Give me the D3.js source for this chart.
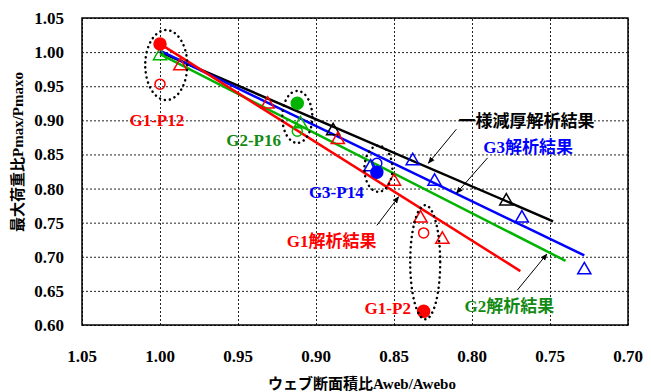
<!DOCTYPE html>
<html>
<head>
<meta charset="utf-8">
<script src="https://cdn.jsdelivr.net/npm/d3@7"></script>
<style>
  body { margin: 0; background: #fff; }
  text { font-family: "Liberation Serif", "Noto Sans CJK JP", serif; font-weight: bold; }
</style>
</head>
<body>
<div class="chart"></div>
<script>
// tick values
var xTicks = [1.05, 1.00, 0.95, 0.90, 0.85, 0.80, 0.75, 0.70];
var yTicks = [0.60, 0.65, 0.70, 0.75, 0.80, 0.85, 0.90, 0.95, 1.00, 1.05];

// analysis lines [x, y] end points
var lineUniform = [[1.000, 1.000], [0.748, 0.752]];
var lineG3 = [[1.000, 1.002], [0.728, 0.702]];
var lineG2 = [[1.000, 0.997], [0.740, 0.694]];
var lineG1 = [[1.000, 1.012], [0.769, 0.679]];

// test points [x, y]
var redFilled = [[1.000, 1.012], [0.831, 0.620]];
var redOpen = [[1.000, 0.953], [0.831, 0.735]];
var redTri = [[0.987, 0.981], [0.931, 0.925], [0.886, 0.873], [0.850, 0.812], [0.833, 0.758], [0.819, 0.727]];
var greenFilled = [[0.912, 0.925]];
var greenOpen = [[0.912, 0.884]];
var greenTri = [[1.000, 0.996], [0.910, 0.896]];
var blueFilled = [[0.861, 0.824]];
var blueOpen = [[0.861, 0.837]];
var blueTri = [[0.865, 0.833], [0.838, 0.842], [0.824, 0.812], [0.768, 0.758], [0.728, 0.682]];
var blackTri = [[0.889, 0.886], [0.778, 0.783]];

function init() {
  var w = 651;
  var h = 392;
  var left = 82, right = 628, top = 18, bottom = 325;

  var red = "#ff0000", green = "#00b400", greenText = "#138a13", blue = "#0000ff", black = "#000";

  var x = d3.scaleLinear().domain([1.05, 0.70]).range([left, right]);
  var y = d3.scaleLinear().domain([0.60, 1.05]).range([bottom, top]);

  var svg = d3.select(".chart").append("svg")
    .attr("width", w)
    .attr("height", h);

  // grid
  svg.append("g")
    .attr("transform", "translate(0," + bottom + ")")
    .call(d3.axisBottom(x).tickValues(xTicks).tickSize(-(bottom - top)).tickFormat(""))
    .call(function(g) {
      g.select(".domain").remove();
      g.selectAll("line").attr("stroke", "#222").attr("stroke-dasharray", "2,2");
    });
  svg.append("g")
    .attr("transform", "translate(" + left + ",0)")
    .call(d3.axisLeft(y).tickValues(yTicks).tickSize(-(right - left)).tickFormat(""))
    .call(function(g) {
      g.select(".domain").remove();
      g.selectAll("line").attr("stroke", "#222").attr("stroke-dasharray", "2,2");
    });

  svg.append("rect")
    .attr("x", left).attr("y", top)
    .attr("width", right - left).attr("height", bottom - top)
    .attr("fill", "none").attr("stroke", "#000").attr("stroke-width", 1.5);

  // tick labels
  svg.selectAll(".xt").data(xTicks).enter().append("text")
    .attr("x", function(d) { return x(d); })
    .attr("y", 362)
    .attr("text-anchor", "middle")
    .attr("font-size", "17px")
    .text(function(d) { return d.toFixed(2); });
  svg.selectAll(".yt").data(yTicks).enter().append("text")
    .attr("x", 64)
    .attr("y", function(d) { return y(d) + 6; })
    .attr("text-anchor", "end")
    .attr("font-size", "17px")
    .text(function(d) { return d.toFixed(2); });

  // axis titles
  svg.append("text")
    .attr("x", 362).attr("y", 389)
    .attr("text-anchor", "middle")
    .attr("font-size", "15px")
    .text("ウェブ断面積比Aweb/Awebo");
  svg.append("text")
    .attr("transform", "translate(23,152) rotate(-90)")
    .attr("text-anchor", "middle")
    .attr("font-size", "15px")
    .text("最大荷重比Pmax/Pmaxo");

  // analysis lines
  var line = d3.line().x(function(d) { return x(d[0]); }).y(function(d) { return y(d[1]); });
  [[lineUniform, black], [lineG3, blue], [lineG2, green], [lineG1, red]].forEach(function(l) {
    svg.append("path").datum(l[0])
      .attr("d", line)
      .attr("fill", "none")
      .attr("stroke", l[1])
      .attr("stroke-width", 2.5);
  });

  // markers
  var tri = d3.symbol().type(d3.symbolTriangle).size(75);
  function triangles(data, color) {
    svg.selectAll(null).data(data).enter().append("path")
      .attr("d", tri)
      .attr("transform", function(d) { return "translate(" + x(d[0]) + "," + (y(d[1]) + 1) + ")"; })
      .attr("fill", "none")
      .attr("stroke", color)
      .attr("stroke-width", 1.5);
  }
  function circles(data, color, filled) {
    svg.selectAll(null).data(data).enter().append("circle")
      .attr("cx", function(d) { return x(d[0]); })
      .attr("cy", function(d) { return y(d[1]); })
      .attr("r", filled ? 6 : 5)
      .attr("fill", filled ? color : "none")
      .attr("stroke", color)
      .attr("stroke-width", 1.5);
  }
  triangles(blackTri, black);
  triangles(blueTri, blue);
  triangles(greenTri, green);
  triangles(redTri, red);
  circles(redOpen, red, false);
  circles(greenOpen, green, false);
  circles(blueOpen, blue, false);
  circles(redFilled, red, true);
  circles(greenFilled, green, true);
  circles(blueFilled, blue, true);

  // dotted ellipses around named specimens
  var groups = [
    { cx: 0.996, cy: 0.981, rx: 21, ry: 35 },
    { cx: 0.912, cy: 0.905, rx: 15, ry: 26 },
    { cx: 0.860, cy: 0.829, rx: 14, ry: 23 },
    { cx: 0.830, cy: 0.692, rx: 15, ry: 57 }
  ];
  svg.selectAll(null).data(groups).enter().append("ellipse")
    .attr("cx", function(d) { return x(d.cx); })
    .attr("cy", function(d) { return y(d.cy); })
    .attr("rx", function(d) { return d.rx; })
    .attr("ry", function(d) { return d.ry; })
    .attr("fill", "none")
    .attr("stroke", "#000")
    .attr("stroke-width", 2.5)
    .attr("stroke-linecap", "round")
    .attr("stroke-dasharray", "0.1,5");

  // arrows to the lines
  svg.append("defs").append("marker")
    .attr("id", "arr")
    .attr("viewBox", "0 0 10 10")
    .attr("refX", 9).attr("refY", 5)
    .attr("markerWidth", 7).attr("markerHeight", 7)
    .attr("orient", "auto")
    .append("path").attr("d", "M0,1L10,5L0,9Z").attr("fill", "#000");
  var arrows = [
    [[0.810, 0.887], [0.828, 0.837]],
    [[0.790, 0.845], [0.810, 0.793]],
    [[0.861, 0.746], [0.847, 0.788]],
    [[0.771, 0.651], [0.752, 0.704]]
  ];
  arrows.forEach(function(a) {
    svg.append("line")
      .attr("x1", x(a[0][0])).attr("y1", y(a[0][1]))
      .attr("x2", x(a[1][0])).attr("y2", y(a[1][1]))
      .attr("stroke", "#000").attr("stroke-width", 1)
      .attr("marker-end", "url(#arr)");
  });

  // labels
  var labels = [
    { t: "G1-P12", x: 1.002, y: 0.892, c: red },
    { t: "G2-P16", x: 0.940, y: 0.862, c: greenText },
    { t: "G3-P14", x: 0.887, y: 0.786, c: blue },
    { t: "G1解析結果", x: 0.890, y: 0.714, c: red },
    { t: "G1-P2", x: 0.854, y: 0.616, c: red },
    { t: "G2解析結果", x: 0.776, y: 0.619, c: greenText },
    { t: "一様減厚解析結果", x: 0.765, y: 0.890, c: black },
    { t: "G3解析結果", x: 0.764, y: 0.852, c: blue }
  ];
  svg.selectAll(null).data(labels).enter().append("text")
    .attr("x", function(d) { return x(d.x); })
    .attr("y", function(d) { return y(d.y); })
    .attr("text-anchor", "middle")
    .attr("font-size", "17px")
    .attr("fill", function(d) { return d.c; })
    .text(function(d) { return d.t; });
}

window.onload = init;
</script>
</body>
</html>
